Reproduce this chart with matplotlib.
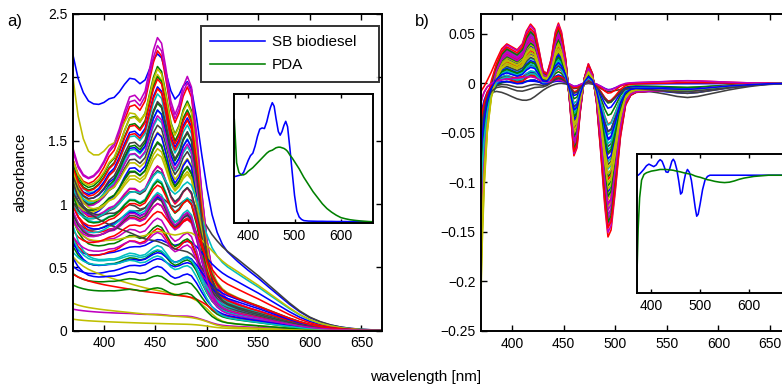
import numpy as np
import matplotlib
matplotlib.use("Agg")
import matplotlib.pyplot as plt
from matplotlib.ticker import FuncFormatter, FixedLocator, NullLocator

plt.rcParams['font.family'] = ['Liberation Sans', 'DejaVu Sans']

# ---------------- panel a) data ----------------
WL_A = [370, 375, 380, 385, 390, 395, 400, 405, 410, 415, 420, 425, 430, 435, 440, 445,
        448, 452, 456, 460, 465, 469, 473, 477, 481, 485, 490, 495, 500, 505, 510, 515,
        520, 530, 540, 550, 560, 570, 580, 590, 600, 610, 620, 630, 640, 650, 660, 670]

# SB biodiesel (carotenoid-like) component as seen in the main panel
SB_A = [0.38, 0.37, 0.37, 0.38, 0.40, 0.43, 0.47, 0.52, 0.55, 0.61, 0.68, 0.74, 0.75, 0.73, 0.77, 0.87,
        0.93, 0.98, 0.96, 0.87, 0.74, 0.69, 0.73, 0.80, 0.84, 0.80, 0.62, 0.40, 0.22, 0.11, 0.06, 0.035,
        0.025, 0.016, 0.012, 0.010, 0.008, 0.007, 0.006, 0.005, 0.004, 0.003, 0.002, 0.002, 0.001, 0.001, 0.0, 0.0]
# broad red-tailed component
TAIL_A = [0.55, 0.58, 0.61, 0.63, 0.65, 0.67, 0.69, 0.71, 0.73, 0.75, 0.77, 0.79, 0.81, 0.83, 0.85, 0.87,
          0.88, 0.89, 0.90, 0.91, 0.93, 0.94, 0.95, 0.96, 0.97, 0.98, 0.99, 1.00, 1.00, 0.98, 0.95, 0.91,
          0.87, 0.79, 0.70, 0.61, 0.51, 0.41, 0.31, 0.22, 0.15, 0.10, 0.065, 0.04, 0.025, 0.015, 0.01, 0.006]
# steep short-wavelength background
BG_A = [1.0, 0.78, 0.64, 0.55, 0.50, 0.46, 0.43, 0.40, 0.375, 0.35, 0.33, 0.31, 0.29, 0.275, 0.26, 0.245,
        0.237, 0.23, 0.22, 0.21, 0.20, 0.19, 0.182, 0.174, 0.166, 0.158, 0.148, 0.135, 0.115, 0.085, 0.055, 0.035,
        0.022, 0.012, 0.008, 0.006, 0.004, 0.003, 0.002, 0.002, 0.001, 0.001, 0.0, 0.0, 0.0, 0.0, 0.0, 0.0]
# slowly declining background
FLAT_A = [1.0, 0.97, 0.94, 0.91, 0.88, 0.85, 0.82, 0.795, 0.77, 0.745, 0.72, 0.695, 0.67, 0.645, 0.62, 0.60,
          0.59, 0.575, 0.56, 0.545, 0.525, 0.51, 0.495, 0.48, 0.465, 0.44, 0.39, 0.32, 0.24, 0.15, 0.08, 0.04,
          0.02, 0.008, 0.004, 0.002, 0.001, 0.0, 0.0, 0.0, 0.0, 0.0, 0.0, 0.0, 0.0, 0.0, 0.0, 0.0]

# per-sample amounts of each component (one entry per plotted spectrum)
SB_AMT = [1.10, 1.80, 1.92, 1.55, 2.05, 1.65, 0.35, 1.60, 1.70, 1.62, 1.45, 1.95, 1.75, 1.28,
          1.42, 1.52, 1.70, 1.35, 1.40, 1.20, 1.10, 1.30, 1.15, 0.95, 0.82, 0.90, 1.05, 0.62,
          0.70, 0.80, 0.60, 0.75, 0.65, 0.95, 0.80, 0.18, 0.50, 0.52, 0.62, 0.55, 0.12, 0.05,
          0.22, 0.35, 0.45, 0.40, 0.45, 0.00, 0.70, 0.25, 0.20, 0.00, 0.30, 0.02, 0.00, 1.50,
          0.28, 0.15, 0.70, 0.30, 0.75, 0.00]
TAIL_AMT = [0.65, 0.20, 0.22, 0.20, 0.20, 0.12, 0.70, 0.22, 0.20, 0.20, 0.18, 0.22, 0.20, 0.20,
            0.16, 0.18, 0.16, 0.17, 0.17, 0.18, 0.22, 0.14, 0.15, 0.15, 0.22, 0.18, 0.20, 0.15,
            0.13, 0.20, 0.24, 0.16, 0.18, 0.30, 0.30, 0.48, 0.15, 0.16, 0.55, 0.14, 0.58, 0.22,
            0.28, 0.15, 0.40, 0.14, 0.13, 0.06, 0.18, 0.30, 0.10, 0.12, 0.20, 0.04, 0.03, 0.18,
            0.12, 0.06, 0.30, 0.10, 0.15, 0.02]
BG_AMT = [0.80, 0.50, 0.45, 0.55, 0.55, 1.30, 0.40, 0.40, 0.45, 0.50, 0.45, 0.50, 0.45, 0.45,
          0.40, 0.38, 0.40, 0.42, 0.38, 0.50, 0.35, 0.45, 0.30, 0.40, 0.60, 0.30, 0.25, 0.45,
          0.35, 0.45, 0.50, 0.30, 0.40, 0.60, 0.30, 0.25, 0.40, 0.30, 0.30, 0.35, 0.40, 0.25,
          0.15, 0.30, 0.25, 0.55, 0.20, 0.15, 0.35, 0.45, 0.10, 0.08, 0.35, 0.02, 0.05, 0.40,
          0.30, 0.05, 0.35, 0.15, 0.25, 0.02]
FLAT_AMT = [0.60, 0.05, 0.05, 0.08, 0.00, 0.00, 0.00, 0.12, 0.10, 0.05, 0.10, 0.05, 0.12, 0.15,
            0.20, 0.10, 0.15, 0.18, 0.15, 0.20, 0.22, 0.10, 0.28, 0.25, 0.10, 0.32, 0.30, 0.40,
            0.30, 0.20, 0.15, 0.25, 0.20, 0.10, 0.25, 0.10, 0.20, 0.15, 0.15, 0.25, 0.10, 0.70,
            0.12, 0.15, 0.15, 0.05, 0.30, 0.40, 0.20, 0.00, 0.22, 0.30, 0.15, 0.12, 0.15, 0.15,
            0.10, 0.22, 0.20, 0.30, 0.25, 0.06]

# inset a): pure component spectra (normalised)
INSET_A_SB = [0.385, 0.39, 0.395, 0.40, 0.42, 0.47, 0.52, 0.56, 0.58, 0.64, 0.72, 0.78, 0.79, 0.785, 0.84, 0.92,
              0.96, 1.0, 0.97, 0.87, 0.76, 0.73, 0.76, 0.81, 0.845, 0.80, 0.62, 0.42, 0.23, 0.10, 0.05, 0.03,
              0.02, 0.016, 0.015, 0.014, 0.014, 0.013, 0.013, 0.012, 0.012, 0.012, 0.011, 0.011, 0.011, 0.010, 0.010, 0.010]
INSET_A_PDA = [0.86, 0.50, 0.42, 0.40, 0.40, 0.41, 0.43, 0.445, 0.46, 0.48, 0.50, 0.52, 0.54, 0.56, 0.58, 0.595,
               0.60, 0.605, 0.615, 0.625, 0.63, 0.63, 0.625, 0.62, 0.61, 0.595, 0.565, 0.54, 0.51, 0.48, 0.45, 0.415,
               0.38, 0.32, 0.26, 0.21, 0.16, 0.12, 0.09, 0.065, 0.045, 0.035, 0.027, 0.022, 0.018, 0.015, 0.012, 0.010]

# ---------------- panel b) data ----------------
WL_B = [370, 371, 373, 376, 380, 385, 390, 395, 400, 405, 410, 414, 418, 422, 426, 430, 434, 438,
        442, 445, 448, 452, 456, 460, 463, 466, 470, 474, 478, 482, 486, 490, 493, 496, 500, 505,
        510, 515, 520, 530, 540, 550, 560, 570, 580, 590, 600, 610, 620, 630, 640, 650, 660, 670]
# derivative-like SB signature (largest curve)
DIFF_B = [-0.004, -0.003, -0.001, 0.004, 0.012, 0.024, 0.035, 0.040, 0.037, 0.034, 0.040, 0.053, 0.060, 0.055,
          0.035, 0.013, 0.010, 0.025, 0.052, 0.061, 0.052, 0.025, -0.020, -0.073, -0.065, -0.030, 0.005, 0.020,
          0.010, -0.020, -0.070, -0.125, -0.155, -0.148, -0.110, -0.055, -0.022, -0.012, -0.009, -0.008, -0.007,
          -0.007, -0.006, -0.006, -0.005, -0.004, -0.003, -0.002, -0.0015, -0.001, -0.0005, 0.0, 0.0, 0.0]
# broad negative signature (normalised)
BROAD_B = [-0.30, -0.30, -0.30, -0.32, -0.35, -0.42, -0.52, -0.65, -0.78, -0.90, -0.98, -1.0, -0.95, -0.80,
           -0.60, -0.40, -0.25, -0.15, -0.10, -0.07, -0.05, -0.05, -0.10, -0.20, -0.20, -0.12, -0.05, -0.02,
           -0.05, -0.12, -0.20, -0.26, -0.28, -0.28, -0.27, -0.28, -0.30, -0.32, -0.35, -0.42, -0.50, -0.60,
           -0.72, -0.78, -0.72, -0.60, -0.48, -0.36, -0.26, -0.17, -0.10, -0.05, -0.02, 0.0]
# short-wavelength edge (normalised)
EDGE_B = [-1.0, -0.78, -0.50, -0.25, -0.10, -0.03, -0.01, 0.0, 0.0, 0.0, 0.0, 0.0, 0.0, 0.0, 0.0, 0.0, 0.0, 0.0,
          0.0, 0.0, 0.0, 0.0, 0.0, 0.0, 0.0, 0.0, 0.0, 0.0, 0.0, 0.0, 0.0, 0.0, 0.0, 0.0, 0.0, 0.0,
          0.0, 0.0, 0.0, 0.0, 0.0, 0.0, 0.0, 0.0, 0.0, 0.0, 0.0, 0.0, 0.0, 0.0, 0.0, 0.0, 0.0, 0.0]

DIFF_AMT = [0.04, 0.12, 1.00, 0.86, 0.97, 0.80, 0.02, 0.70, 0.60, 0.07, 0.55, 0.92, 0.75, 0.45,
            0.30, 0.66, 0.78, 0.50, 0.88, 0.72, 0.40, 0.35, 0.20, 0.62, 0.42, 0.85, 0.68, 0.52,
            0.58, 0.73, 0.25, 0.38, 0.82, 0.64, 0.10, 0.48, 0.90, 0.94, 0.32, 0.78, 0.58, 0.30,
            0.15, 0.44, 0.12, 0.26, 0.05, 0.54, 0.10, 0.35]
BROAD_AMT = [0.000, 0.004, 0.000, 0.002, 0.000, 0.003, 0.018, 0.004, 0.005, -0.004, 0.004, 0.002, 0.003, 0.006,
             0.006, 0.004, 0.003, 0.005, 0.002, 0.004, 0.006, 0.010, 0.004, 0.004, 0.006, 0.003, 0.005, 0.005,
             0.005, 0.003, 0.008, 0.006, 0.003, 0.004, 0.008, 0.006, 0.002, 0.001, 0.007, 0.004, 0.004, 0.008,
             0.006, 0.005, -0.002, 0.006, -0.004, 0.004, 0.012, 0.005]
EDGE_AMT = [0.06, 0.12, 0.004, 0.09, 0.14, 0.21, 0.03, 0.07, 0.10, 0.02, 0.12, 0.16, 0.19, 0.08,
            0.06, 0.11, 0.10, 0.13, 0.15, 0.18, 0.09, 0.05, 0.08, 0.09, 0.14, 0.13, 0.17, 0.07,
            0.08, 0.12, 0.06, 0.15, 0.12, 0.16, 0.04, 0.07, 0.11, 0.08, 0.10, 0.14, 0.20, 0.05,
            0.03, 0.09, 0.04, 0.11, 0.02, 0.18, 0.05, 0.07]

INSET_B_SB = [0.0, 0.0, 0.0, 0.03, 0.08, 0.15, 0.23, 0.27, 0.24, 0.21, 0.25, 0.33, 0.38, 0.34,
              0.22, 0.08, 0.07, 0.17, 0.34, 0.39, 0.33, 0.15, -0.13, -0.46, -0.42, -0.20, 0.03, 0.14,
              0.07, -0.12, -0.45, -0.80, -1.0, -0.95, -0.70, -0.35, -0.12, -0.03, 0.0, 0.0, 0.0,
              0.0, 0.0, 0.0, 0.0, 0.0, 0.0, 0.0, 0.0, 0.0, 0.0, 0.0, 0.0, 0.0]
INSET_B_PDA = [-2.9, -2.2, -1.3, -0.55, -0.12, 0.02, 0.06, 0.08, 0.10, 0.11, 0.12, 0.13, 0.14, 0.14,
               0.14, 0.14, 0.135, 0.13, 0.125, 0.12, 0.11, 0.10, 0.09, 0.08, 0.07, 0.06, 0.05, 0.04,
               0.03, 0.02, 0.0, -0.02, -0.03, -0.04, -0.05, -0.07, -0.09, -0.11, -0.12, -0.15, -0.17,
               -0.18, -0.17, -0.14, -0.10, -0.07, -0.05, -0.03, -0.02, -0.01, 0.0, 0.0, 0.0, 0.0]

X_TICKS = [400, 450, 500, 550, 600, 650]
INSET_X_TICKS = [400, 500, 600]
YA_TICKS = [0, 0.5, 1, 1.5, 2, 2.5]
YB_TICKS = [-0.25, -0.2, -0.15, -0.1, -0.05, 0, 0.05]
LEGEND = ["SB biodiesel", "PDA"]

# ---------------- drawing ----------------
COLORS = [(0, 0, 1), (0, 0.5, 0), (1, 0, 0), (0, 0.75, 0.75), (0.75, 0, 0.75),
          (0.75, 0.75, 0), (0.25, 0.25, 0.25)]
LW = 1.15


def gfmt(v, pos=None):
    s = "%g" % v
    return s.replace("-", "\u2212")


def style(ax, lw=1.4, ticklen=4, labelsize=10):
    for sp in ax.spines.values():
        sp.set_linewidth(lw)
    ax.tick_params(direction="in", length=ticklen, width=1.0, top=True, right=True,
                   labelsize=labelsize, pad=4)


fig = plt.figure(figsize=(7.82, 3.84), dpi=100)

W, H = 782.0, 384.0


def rect(x0, x1, ytop, ybot):
    return [x0 / W, 1 - ybot / H, (x1 - x0) / W, (ybot - ytop) / H]


# panel a
axA = fig.add_axes(rect(73, 382, 14, 330.7))
wa = np.array(WL_A)
compA = np.vstack([SB_A, TAIL_A, BG_A, FLAT_A])
amtA = np.column_stack([SB_AMT, TAIL_AMT, BG_AMT, FLAT_AMT])
specA = amtA @ compA
for i, s in enumerate(specA):
    axA.plot(wa, s, color=COLORS[i % 7], lw=LW)
axA.set_xlim(370, 670)
axA.set_ylim(0, 2.5)
axA.xaxis.set_major_locator(FixedLocator(X_TICKS))
axA.yaxis.set_major_locator(FixedLocator(YA_TICKS))
axA.xaxis.set_major_formatter(FuncFormatter(gfmt))
axA.yaxis.set_major_formatter(FuncFormatter(gfmt))
style(axA)
axA.set_ylabel("absorbance", fontsize=11, labelpad=15)

lh1, = axA.plot([], [], color=COLORS[0], lw=LW)
lh2, = axA.plot([], [], color=COLORS[1], lw=LW)
leg = axA.legend([lh1, lh2], LEGEND, loc="upper left",
                 bbox_to_anchor=(0.414, 0.786, 0.576, 0.177), mode="expand",
                 fontsize=11, frameon=True, fancybox=False, handlelength=3.6,
                 handletextpad=0.45, borderpad=0.6, labelspacing=0.62, borderaxespad=0.0)
leg.get_frame().set_edgecolor("black")
leg.get_frame().set_linewidth(1.4)

# inset a
axAi = fig.add_axes(rect(234.3, 373.3, 94, 223))
axAi.plot(wa, INSET_A_SB, color=COLORS[0], lw=LW)
axAi.plot(wa, INSET_A_PDA, color=COLORS[1], lw=LW)
axAi.set_xlim(370, 670)
axAi.set_ylim(0, 1.072)
axAi.xaxis.set_major_locator(FixedLocator(INSET_X_TICKS))
axAi.yaxis.set_major_locator(NullLocator())
style(axAi, ticklen=3)

# panel b
axB = fig.add_axes(rect(481, 790.7, 14, 331))
wb = np.array(WL_B)
compB = np.vstack([DIFF_B, BROAD_B, EDGE_B])
amtB = np.column_stack([DIFF_AMT, BROAD_AMT, EDGE_AMT])
specB = amtB @ compB
for i, s in enumerate(specB):
    axB.plot(wb, s, color=COLORS[i % 7], lw=LW)
axB.set_xlim(370, 670)
axB.set_ylim(-0.25, 0.0702)
axB.xaxis.set_major_locator(FixedLocator(X_TICKS))
axB.yaxis.set_major_locator(FixedLocator(YB_TICKS))
axB.xaxis.set_major_formatter(FuncFormatter(gfmt))
axB.yaxis.set_major_formatter(FuncFormatter(gfmt))
style(axB)

# inset b
axBi = fig.add_axes(rect(636.7, 783.1, 154.3, 293.3))
axBi.plot(wb, INSET_B_SB, color=COLORS[0], lw=LW)
axBi.plot(wb, INSET_B_PDA, color=COLORS[1], lw=LW)
axBi.set_xlim(370, 670)
axBi.set_ylim(-2.88, 0.51)
axBi.xaxis.set_major_locator(FixedLocator(INSET_X_TICKS))
axBi.yaxis.set_major_locator(NullLocator())
style(axBi, ticklen=3)

fig.text(14.5 / W, 1 - 21.5 / H, "a)", fontsize=12, ha="center", va="center")
fig.text(422.5 / W, 1 - 21.5 / H, "b)", fontsize=12, ha="center", va="center")
fig.text(426 / W, 1 - 377 / H, "wavelength [nm]", fontsize=11, ha="center", va="center")

fig.savefig("out.png", dpi=100)
